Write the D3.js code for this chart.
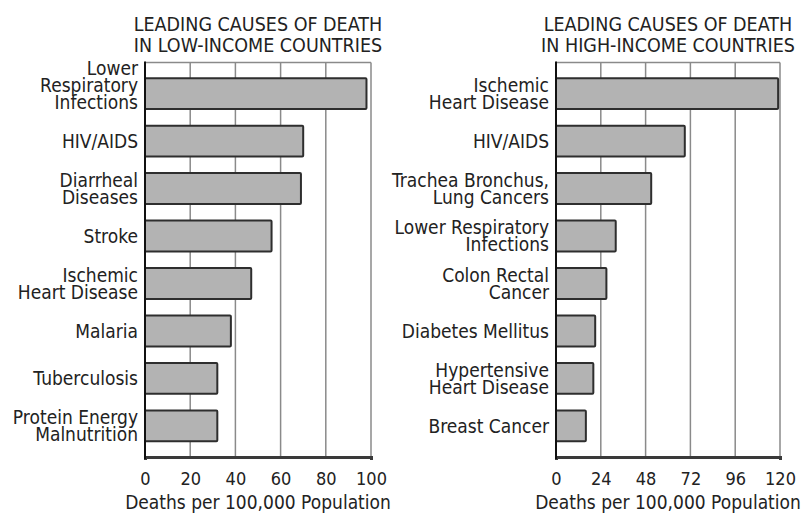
<!DOCTYPE html>
<html><head><meta charset="utf-8">
<script src="https://cdn.jsdelivr.net/npm/d3@7"></script>
<style>
html,body{margin:0;padding:0;background:#fff;}
svg{display:block;font-family:"DejaVu Sans",Verdana,sans-serif;}
</style>
</head><body>
<svg id="chart" width="805" height="514"></svg>
<script>
// ---- data ----
const lowTitle = ["LEADING CAUSES OF DEATH", "IN LOW-INCOME COUNTRIES"];
const lowCauses = ["Lower\nRespiratory\nInfections", "HIV/AIDS", "Diarrheal\nDiseases", "Stroke",
  "Ischemic\nHeart Disease", "Malaria", "Tuberculosis", "Protein Energy\nMalnutrition"];
const lowValues = [98, 70, 69, 56, 47, 38, 32, 32];
const lowTicks = [0, 20, 40, 60, 80, 100];

const highTitle = ["LEADING CAUSES OF DEATH", "IN HIGH-INCOME COUNTRIES"];
const highCauses = ["Ischemic\nHeart Disease", "HIV/AIDS", "Trachea Bronchus,\nLung Cancers",
  "Lower Respiratory\nInfections", "Colon Rectal\nCancer", "Diabetes Mellitus",
  "Hypertensive\nHeart Disease", "Breast Cancer"];
const highValues = [119, 69, 51, 32, 27, 21, 20, 16];
const highTicks = [0, 24, 48, 72, 96, 120];

const axisTitle = "Deaths per 100,000 Population";

// ---- drawing ----
const svg = d3.select("#chart");
const FS = 19, SX = 0.9, LH = 17, TXT = "#222";

function addText(g, x, y, str, anchor, size) {
  return g.append("text")
    .attr("transform", `translate(${x},${y}) scale(${SX},1)`)
    .attr("text-anchor", anchor)
    .attr("font-size", size)
    .attr("fill", TXT)
    .text(str);
}

function panel(cfg) {
  const { left, right, top, bottom, title, causes, values, ticks } = cfg;
  const g = svg.append("g");
  const x = d3.scaleLinear().domain([0, ticks[ticks.length - 1]]).range([left, right]);
  const y = d3.scaleBand().domain(causes).range([top, bottom]).paddingInner(0.35).paddingOuter(0.33);

  // title
  const cx = (left + right) / 2;
  title.forEach((t, i) => addText(g, cx, 30.7 + i * 21.6, t, "middle", 19.5));

  // top frame line
  g.append("line").attr("x1", left).attr("x2", right).attr("y1", top).attr("y2", top)
    .attr("stroke", "#8a8a8a").attr("stroke-width", 1.5);

  // vertical gridlines (last one is the right frame)
  g.selectAll(".grid").data(ticks.slice(1)).join("line").attr("class", "grid")
    .attr("x1", d => x(d)).attr("x2", d => x(d)).attr("y1", top).attr("y2", bottom)
    .attr("stroke", "#8a8a8a").attr("stroke-width", 1.5);

  // bars
  g.selectAll(".bar").data(values).join("rect").attr("class", "bar")
    .attr("x", x(0))
    .attr("y", (d, i) => y(causes[i]))
    .attr("width", d => x(d) - x(0))
    .attr("height", y.bandwidth())
    .attr("rx", 1)
    .attr("fill", "#b3b3b3").attr("stroke", "#2e2e2e").attr("stroke-width", 2);

  // x axis
  const ax = g.append("g").attr("transform", `translate(0,${bottom})`)
    .call(d3.axisBottom(x).tickValues(ticks).tickSize(0).tickSizeOuter(3).tickPadding(0));
  ax.attr("font-family", null).attr("font-size", null);
  ax.select(".domain").attr("stroke", "#3a3a3a").attr("stroke-width", 3);
  ax.selectAll(".tick text")
    .attr("y", 28).attr("dy", null)
    .attr("font-size", 18).attr("fill", TXT)
    .attr("transform", `scale(${SX},1)`);

  // y axis line
  g.append("line").attr("x1", left).attr("x2", left).attr("y1", top - 1).attr("y2", bottom + 2)
    .attr("stroke", "#111").attr("stroke-width", 2);

  // category labels
  causes.forEach(c => {
    const lines = c.split("\n");
    const n = lines.length;
    const yc = y(c) + y.bandwidth() / 2;
    const cap = 0.729 * FS;
    let base = lines.map((l, i) => yc + (i - (n - 1) / 2) * LH + cap / 2);
    const maxBase = y(c) + y.bandwidth();
    const shift = Math.min(0, maxBase - base[n - 1]);
    base = base.map(b => b + shift);
    lines.forEach((l, i) => addText(g, left - 7, base[i], l, "end", FS));
  });

  // axis title
  addText(g, cx, 509, axisTitle, "middle", FS);
}

panel({ left: 145, right: 371, top: 62.5, bottom: 457, title: lowTitle, causes: lowCauses, values: lowValues, ticks: lowTicks });
panel({ left: 556, right: 780, top: 62.5, bottom: 457, title: highTitle, causes: highCauses, values: highValues, ticks: highTicks });
</script>
</body></html>
